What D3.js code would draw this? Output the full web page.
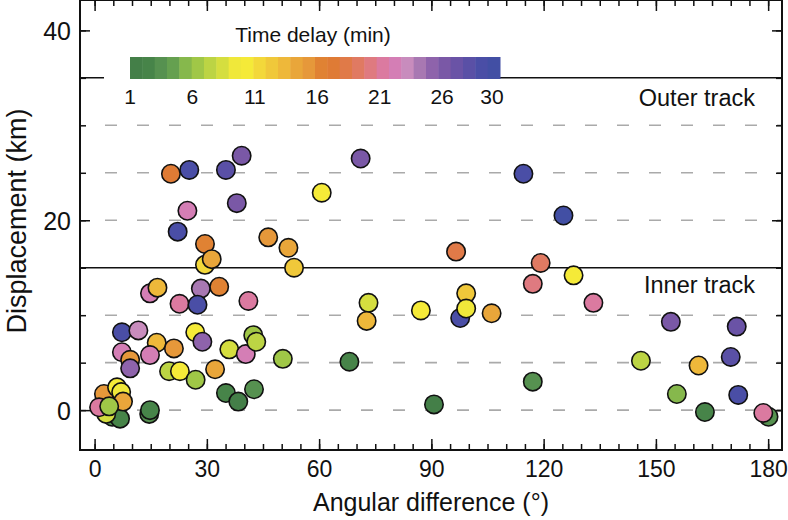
<!DOCTYPE html>
<meta charset="utf-8">
<style>
    body { margin: 0; background: #fff; }
    svg { font-family: 'Liberation Sans', Arial, sans-serif; display: block; }
</style>
<script src="https://d3js.org/d3.v7.min.js"></script>
<div id="graph"></div>
<script>
    // angular difference (deg), displacement (km), time delay (min)
    const angle = [20.4, 25.3, 35.1, 39.3, 24.8, 38.0, 22.2, 29.5, 29.5, 31.3, 46.4, 51.8, 53.3, 71.1, 60.7,
        114.6, 125.3, 96.6, 119.2, 117.1, 128.0, 133.3,
        73.2, 72.7, 87.2, 99.3, 97.7, 99.3, 106.1, 50.3, 68.1, 117.1, 90.7,
        154.0, 171.6, 146.0, 161.4, 170.0, 155.6, 172.0, 163.1, 180.1, 178.7,
        14.8, 16.8, 28.4, 33.3, 22.7, 27.5, 41.1, 7.3, 11.7, 16.6, 21.2, 14.8, 7.3, 9.5, 9.5,
        26.9, 28.8, 19.9, 22.8, 27.0, 32.2, 36.0, 40.4, 42.4, 43.2, 35.1, 38.4, 42.6, 14.6, 14.8,
        4.7, 6.8, 3.1, 2.5, 6.0, 7.1, 7.6, 1.2, 3.9];
    const displacement = [24.9, 25.3, 25.3, 26.8, 21.0, 21.8, 18.8, 17.5, 15.3, 15.9, 18.2, 17.1, 15.0, 26.5, 22.9,
        24.9, 20.5, 16.7, 15.5, 13.3, 14.2, 11.3,
        11.3, 9.4, 10.5, 12.3, 9.7, 10.7, 10.2, 5.4, 5.1, 3.0, 0.6,
        9.3, 8.8, 5.2, 4.7, 5.6, 1.7, 1.6, -0.2, -0.7, -0.3,
        12.3, 12.9, 12.8, 13.0, 11.2, 11.1, 11.5, 8.2, 8.4, 7.1, 6.5, 5.8, 6.1, 5.3, 4.4,
        8.2, 7.2, 4.1, 4.1, 3.2, 4.3, 6.4, 5.9, 7.9, 7.2, 1.8, 0.9, 2.2, -0.4, 0.0,
        -0.7, -0.9, -0.4, 1.7, 2.4, 1.9, 0.9, 0.3, 0.4];
    const delay = [17, 29, 28, 26, 22, 26, 29, 16, 11, 14, 15, 14, 12, 26, 10,
        29, 30, 18, 19, 20, 10, 21,
        8, 13, 10, 12, 29, 9, 14, 6, 2, 3, 1,
        26, 27, 7, 13, 28, 5, 29, 2, 3, 21,
        22, 13, 24, 16, 21, 29, 21, 29, 23, 13, 15, 22, 22, 15, 25,
        10, 25, 7, 10, 6, 14, 8, 22, 6, 7, 2, 1, 3, 3, 2,
        3, 2, 8, 15, 10, 9, 14, 21, 6];

    const delayColors = ["#447f48", "#478449", "#569150", "#65a050", "#86b84c", "#a0c747", "#bcd444", "#d5de3f",
        "#f0e83a", "#f5ea38", "#f3d83a", "#f0c83a", "#eeb83a", "#e9a63a", "#e6983a", "#e08233", "#df7b35",
        "#e07a48", "#e07a62", "#df7a80", "#db7aa0", "#d47eb5", "#c88cbd", "#a878b2", "#8e63ab", "#7a58a6",
        "#6a53a6", "#5a50a6", "#4a4ea6", "#424fa4"];
    const legendTicks = [1, 6, 11, 16, 21, 26, 30];
    const xTicks = [0, 30, 60, 90, 120, 150, 180];
    const yTicks = [0, 20, 40];
    const gridKm = [0, 5, 10, 20, 25, 30];
    const tracks = [{name: "Inner track", km: 15, dy: 25.5}, {name: "Outer track", km: 35, dy: 28.5}];

    const W = 788, H = 520;
    const svg = d3.select("#graph").append("svg").attr("width", W).attr("height", H);

    const x = d3.scaleLinear().domain([-3.9, 183.7]).range([80, 782]);
    const y = d3.scaleLinear().domain([-4.2, 43.2]).range([450, 0]);
    const color = d3.scaleOrdinal().domain(d3.range(1, 31)).range(delayColors);

    // dashed grid
    svg.append("g").selectAll("line").data(gridKm).join("line")
        .attr("x1", 105).attr("x2", x.range()[1])
        .attr("y1", d => y(d)).attr("y2", d => y(d))
        .attr("stroke", "#aaa").attr("stroke-width", 1.6)
        .attr("stroke-dasharray", "12,20");

    // track lines
    svg.append("g").selectAll("line").data(tracks).join("line")
        .attr("x1", x.range()[0]).attr("x2", x.range()[1])
        .attr("y1", d => y(d.km)).attr("y2", d => y(d.km))
        .attr("stroke", "#111").attr("stroke-width", 1.5);

    svg.append("g").selectAll("text").data(tracks).join("text")
        .attr("x", 755).attr("y", d => y(d.km) + d.dy)
        .attr("text-anchor", "end").attr("font-size", 23.5).attr("fill", "#111")
        .text(d => d.name);

    // axes, ticks inward
    const minorX = d3.range(0, 181, 5), minorY = d3.range(0, 41, 5);
    function frameAxis(axisFn, scale, ticks, size, pos, labels, fs) {
        const g = svg.append("g").attr("transform", pos)
            .call(axisFn(scale).tickValues(ticks).tickSizeInner(-size).tickSizeOuter(0)
                .tickPadding(labels ? 9 : 0).tickFormat(labels ? d3.format("d") : ""));
        g.select(".domain").remove();
        g.selectAll(".tick line").attr("stroke", "#111").attr("stroke-width", 1.5);
        g.selectAll("text").attr("font-size", fs || 25).attr("fill", "#111").attr("font-family", "'Liberation Sans', Arial, sans-serif");
        return g;
    }
    frameAxis(d3.axisBottom, x, minorX, 6, "translate(0,450)", false);
    frameAxis(d3.axisBottom, x, xTicks, 11, "translate(0,450)", true, 23).selectAll("text").attr("dy", "0.8em");
    frameAxis(d3.axisTop, x, minorX, 6, "translate(0,0)", false);
    frameAxis(d3.axisTop, x, xTicks, 11, "translate(0,0)", false);
    frameAxis(d3.axisLeft, y, minorY, 6, "translate(80,0)", false);
    frameAxis(d3.axisLeft, y, yTicks, 10, "translate(80,0)", true, 25).selectAll("text").attr("dy", "0.36em");
    frameAxis(d3.axisRight, y, minorY, 6, "translate(782,0)", false);
    frameAxis(d3.axisRight, y, yTicks, 10, "translate(782,0)", false);

    // frame
    svg.append("rect").attr("x", 80).attr("y", 0).attr("width", 702).attr("height", 450)
        .attr("fill", "none").attr("stroke", "#111").attr("stroke-width", 2);

    // axis titles
    svg.append("text").attr("x", 431).attr("y", 511).attr("text-anchor", "middle")
        .attr("font-size", 25).attr("fill", "#111").text("Angular difference (°)");
    svg.append("text").attr("transform", "translate(26,221) rotate(-90)").attr("text-anchor", "middle")
        .attr("font-size", 27).attr("fill", "#111").text("Displacement (km)");

    // legend
    const lg = svg.append("g");
    lg.append("rect").attr("x", 104).attr("y", 12).attr("width", 394).attr("height", 98).attr("fill", "#fff");
    const band = d3.scaleBand().domain(d3.range(1, 31)).range([130, 500]);
    lg.selectAll("rect.c").data(d3.range(1, 31)).join("rect").attr("class", "c")
        .attr("x", d => band(d)).attr("y", 57).attr("width", band.bandwidth() + 0.5).attr("height", 22)
        .attr("fill", d => color(d));
    const lx = d3.scaleLinear().domain([1, 30]).range([130, 492]);
    lg.selectAll("text.t").data(legendTicks).join("text").attr("class", "t")
        .attr("x", d => lx(d)).attr("y", 104).attr("text-anchor", "middle")
        .attr("font-size", 21).attr("fill", "#111").text(d => d);
    lg.append("text").attr("x", 313).attr("y", 42).attr("text-anchor", "middle")
        .attr("font-size", 21).attr("fill", "#111").text("Time delay (min)");

    // points
    const pts = angle.map((a, i) => ({a: a, km: displacement[i], t: delay[i]}));
    svg.append("g").selectAll("circle").data(pts).join("circle")
        .attr("cx", d => x(d.a)).attr("cy", d => y(d.km)).attr("r", 9.2)
        .attr("fill", d => color(d.t)).attr("stroke", "#111").attr("stroke-width", 1.6);
</script>
